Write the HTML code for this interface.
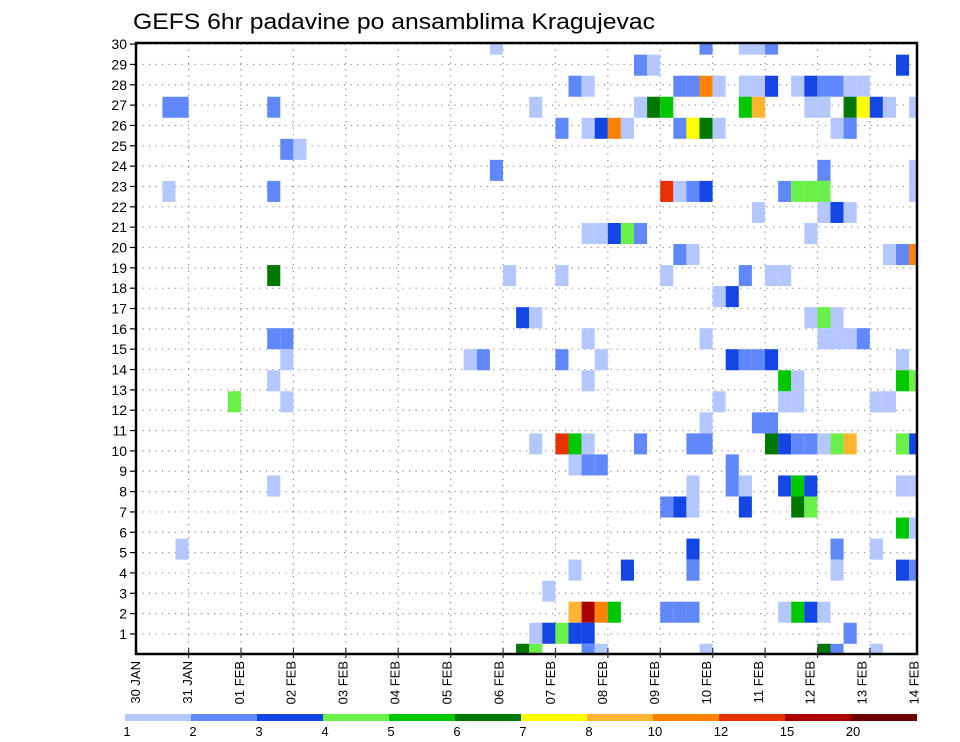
<!DOCTYPE html>
<html><head><meta charset="utf-8"><title>GEFS 6hr padavine</title>
<style>html,body{margin:0;padding:0;background:#fff}svg{display:block}text{font-family:"Liberation Sans",sans-serif}</style>
</head><body>
<svg id="chart" width="960" height="742" viewBox="0 0 960 742" xmlns="http://www.w3.org/2000/svg">
<rect x="0" y="0" width="960" height="742" fill="#fff"/>
<text x="133" y="29" font-size="22" textLength="522" lengthAdjust="spacingAndGlyphs" fill="#000">GEFS 6hr padavine po ansamblima Kragujevac</text>
<defs><clipPath id="plotclip"><rect x="136" y="43" width="781" height="611"/></clipPath></defs>
<g id="grid"></g>
<g id="cells" clip-path="url(#plotclip)"></g>
<rect x="136" y="43" width="781" height="611" fill="none" stroke="#000" stroke-width="2.5"/>
<g id="yaxis"></g>
<g id="xaxis"></g>
<g id="legend"></g>
</svg>
<script>
const NS="http://www.w3.org/2000/svg";
const levelColors=["#b4c7ff","#6088fa","#1446e6","#6af048","#00c800","#007800","#ffff00","#ffb432","#ff8200","#e63200","#aa0000","#6e0000"];
const levelLabels=["1","2","3","4","5","6","7","8","10","12","15","20"];
const dayLabels=["30 JAN","31 JAN","01 FEB","02 FEB","03 FEB","04 FEB","05 FEB","06 FEB","07 FEB","08 FEB","09 FEB","10 FEB","11 FEB","12 FEB","13 FEB","14 FEB"];
const memberTicks=[1,2,3,4,5,6,7,8,9,10,11,12,13,14,15,16,17,18,19,20,21,22,23,24,25,26,27,28,29,30];
// cell data: row index (0 bottom .. 29 top), 6-hourly column index, colour level (1..12)
const cellRow=[
29,29,29,29,29,
28,28,28,
27,27,27,27,27,27,27,27,27,27,27,27,27,27,27,
26,26,26,26,26,26,26,26,26,26,26,26,26,26,26,26,
25,25,25,25,25,25,25,25,25,25,25,
24,24,
23,23,23,
22,22,22,22,22,22,22,22,22,22,22,
21,21,21,21,
20,20,20,20,20,20,
19,19,19,19,19,
18,18,18,18,18,18,18,
17,17,
16,16,16,16,16,
15,15,15,15,15,15,15,15,
14,14,14,14,14,14,14,14,14,14,
13,13,13,13,13,13,
12,12,12,12,12,12,12,
11,11,11,
10,10,10,10,10,10,10,10,10,10,10,10,10,10,10,10,
9,9,9,9,
8,8,8,8,8,8,8,8,8,
7,7,7,7,7,7,
6,6,
5,5,5,5,
4,4,4,4,4,4,
3,
2,2,2,2,2,2,2,2,2,2,2,
1,1,1,1,1,1,
0,0,0,0,0,0,0,0];
const cellCol=[
27,43,46,47,48,
38,39,58,
33,34,41,42,43,44,46,47,48,50,51,52,53,54,55,
2,3,10,30,38,39,40,46,47,51,52,54,55,56,57,59,
32,34,35,36,37,41,42,43,44,53,54,
11,12,
27,52,59,
2,10,40,41,42,43,49,50,51,52,59,
47,52,53,54,
34,35,36,37,38,51,
41,42,57,58,59,
10,28,32,40,46,48,49,
44,45,
29,30,51,52,53,
10,11,34,43,52,53,54,55,
11,25,26,32,35,45,46,47,48,58,
10,34,49,50,58,59,
7,11,44,49,50,56,57,
43,47,48,
30,32,33,34,38,42,43,48,49,50,51,52,53,54,58,59,
33,34,35,45,
10,42,45,46,49,50,51,58,59,
40,41,42,46,50,51,
58,59,
3,42,53,56,
33,37,42,53,58,59,
31,
33,34,35,36,40,41,42,49,50,51,52,
30,31,32,33,34,54,
29,30,34,35,43,52,53,56];
const cellLevel=[
1,2,1,1,2,
2,1,3,
2,1,2,2,9,1,1,1,3,1,3,2,2,1,1,
2,2,2,1,1,6,5,5,8,1,1,6,7,3,1,1,
2,1,3,9,1,2,7,6,1,1,2,
2,1,
2,2,1,
1,2,10,1,2,3,2,4,4,4,1,
1,1,3,1,
1,1,3,4,2,1,
2,1,1,2,9,
6,1,1,1,2,1,1,
1,3,
3,1,1,4,1,
2,2,1,1,1,1,1,2,
1,1,2,2,1,3,2,2,3,1,
1,1,5,1,5,4,
4,1,1,1,1,1,1,
1,2,2,
1,10,5,1,2,2,2,6,3,2,2,1,4,8,4,3,
1,2,2,2,
1,1,2,1,3,5,3,1,1,
2,3,1,3,6,4,
5,1,
1,3,2,1,
1,3,2,1,3,2,
1,
8,11,9,5,2,2,2,1,5,3,1,
1,3,4,3,3,2,
6,4,2,1,1,6,2,1];

// axis functions
const X0=136.2, COLW=13.1, DAYW=52.41;
const YBOT=654.3, ROWH=21.04, MEMH=20.34;
function xCol(k){return X0+COLW*k;}
function yRowCenter(j){return YBOT-ROWH*j;}
function xDay(d){return X0+DAYW*d;}
function yMember(m){return YBOT-MEMH*m;}

const svg=document.getElementById('chart');
const gGrid=document.getElementById('grid');
const gCells=document.getElementById('cells');
const gY=document.getElementById('yaxis');
const gX=document.getElementById('xaxis');
const gL=document.getElementById('legend');
function mk(tag,attrs,parent){const e=document.createElementNS(NS,tag);for(const k in attrs)e.setAttribute(k,attrs[k]);parent.appendChild(e);return e;}

// grid
for(let m=1;m<=30;m++){
  const y=yMember(m);
  const l=mk('line',{x1:136,x2:917,y1:y,y2:y,stroke:'#909090','stroke-width':1.2,'stroke-dasharray':'1.2 5.3'},gGrid);
  
  
}
for(let d=1;d<15;d++){
  const x=xDay(d);
  const l=mk('line',{x1:x,x2:x,y1:43,y2:654,stroke:'#909090','stroke-width':1.2,'stroke-dasharray':'1.2 5.3'},gGrid);
  
  
}
// cells
for(let i=0;i<cellRow.length;i++){
  const r=mk('rect',{x:xCol(cellCol[i]),y:yRowCenter(cellRow[i])-ROWH/2,width:COLW,height:ROWH,fill:levelColors[cellLevel[i]-1]},gCells);
  
  
}
// y axis
memberTicks.forEach(m=>{
  const y=yMember(m);
  const t=mk('line',{x1:130,x2:136,y1:y,y2:y,stroke:'#000','stroke-width':1.2},gY);
  
  
  const tx=mk('text',{x:127,y:y+5,'font-size':14,'text-anchor':'end',fill:'#000'},gY);
  tx.textContent=String(m);
  
  
});
// x axis
dayLabels.forEach((lab,d)=>{
  const x=xDay(d);
  if(d>0&&d<15){
    const t=mk('line',{x1:x,x2:x,y1:648,y2:658,stroke:'#333','stroke-width':1.2},gX);
    
    
  }
  const lx=135+51.9*d+5;
  const tx=mk('text',{x:0,y:0,'font-size':13,'text-anchor':'end',fill:'#000',transform:'translate('+lx+',661) rotate(-90)'},gX);
  tx.textContent=lab;
  
  
});
// colorbar legend
const LX=125, LW=66;
levelColors.forEach((c,i)=>{
  const r=mk('rect',{x:LX+LW*i,y:714,width:LW,height:7,fill:c},gL);
  
  
});
levelLabels.forEach((lab,i)=>{
  const tx=mk('text',{x:LX+LW*i+2,y:736,'font-size':13,'text-anchor':'middle',fill:'#000'},gL);
  tx.textContent=lab;
  
  
});
</script>
</body></html>
